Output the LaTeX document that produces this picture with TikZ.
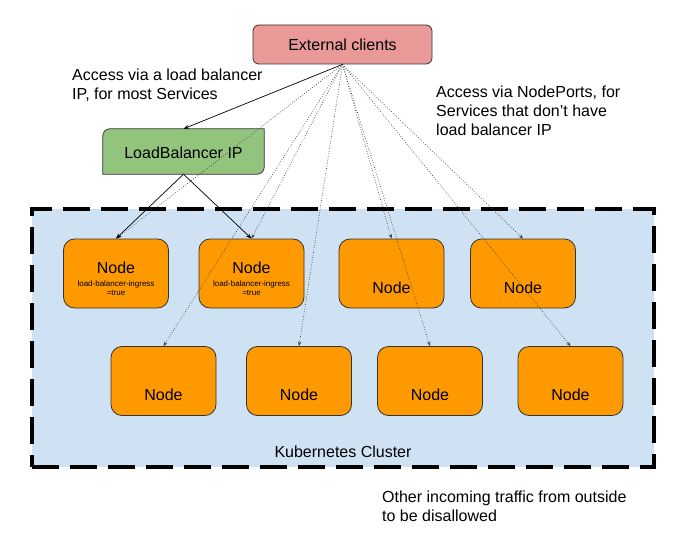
\documentclass[tikz,border=0pt]{standalone}
\usepackage{fontspec}
\setmainfont{Liberation Sans}
\usetikzlibrary{arrows.meta}
\definecolor{extpink}{HTML}{EA9999}
\definecolor{lbgreen}{HTML}{93C47D}
\definecolor{nodeorange}{HTML}{FF9900}
\definecolor{clusterblue}{HTML}{CFE2F3}
\definecolor{edgegray}{HTML}{333333}
\tikzset{
  bigfont/.style={font=\fontsize{16}{19}\selectfont},
  smallfont/.style={font=\fontsize{8}{9}\selectfont},
  extbox/.style={draw=edgegray, line width=0.8pt, fill=extpink, rounded corners=6pt,
    minimum width=179pt, minimum height=39pt, inner sep=0pt, bigfont},
  lbbox/.style={minimum width=161pt, minimum height=45pt, inner sep=0pt, bigfont},
  lbshape/.style={draw=edgegray, line width=0.8pt, fill=lbgreen},
  kbox/.style={draw=edgegray, line width=0.8pt, fill=nodeorange, rounded corners=11pt,
    minimum width=105pt, minimum height=69pt, inner sep=0pt},
  ktext/.style={bigfont, inner sep=0pt},
  ksub/.style={smallfont, inner sep=0pt, align=center, anchor=north},
  clusterbox/.style={draw=black, fill=clusterblue, line width=4pt,
    dash pattern=on 27pt off 11pt, minimum width=622pt, minimum height=258pt, inner sep=0pt},
  note/.style={bigfont, inner sep=0pt, align=left, anchor=north west},
  solidarrow/.style={draw=black, line width=0.7pt, -{Stealth[length=5.5pt,width=4pt]}},
  dotarrow/.style={draw=black!75, line width=0.7pt, dash pattern=on 0.7pt off 1.8pt,
    -{Stealth[length=4.5pt,width=3.5pt]}},
}
\begin{document}
\begin{tikzpicture}[x=1pt,y=-1pt]
\useasboundingbox[fill=white] (0,0) rectangle (684,545);

% cluster
\node[clusterbox] (cluster) at (343,338) {};
\node[bigfont, inner sep=0pt] (clusterlbl) at (343,452) {Kubernetes Cluster};

% top nodes
\node[kbox] (n1) at (116,273.5) {};
\node[kbox] (n2) at (251.5,273.5) {};
\node[kbox] (n3) at (391.5,273.5) {};
\node[kbox] (n4) at (523,273.5) {};
% bottom nodes
\node[kbox] (n5) at (163.5,381) {};
\node[kbox] (n6) at (299,381) {};
\node[kbox] (n7) at (430,381) {};
\node[kbox] (n8) at (570.5,381) {};

\node[ktext] (n1t) at (116,268) {Node};
\node[ksub] (n1s) at (116,280.5) {load-balancer-ingress\\=true};
\node[ktext] (n2t) at (251.5,268) {Node};
\node[ksub] (n2s) at (251.5,280.5) {load-balancer-ingress\\=true};
\node[ktext] (n3t) at (391.5,288) {Node};
\node[ktext] (n4t) at (523,288) {Node};
\node[ktext] (n5t) at (163.5,395) {Node};
\node[ktext] (n6t) at (299,395) {Node};
\node[ktext] (n7t) at (430,395) {Node};
\node[ktext] (n8t) at (570.5,395) {Node};

% external clients
\node[extbox] (ext) at (342.5,44.5) {External clients};

% load balancer
\node[lbbox] (lb) at (183.5,151.5) {};
\draw[lbshape] (lb.north east) -- ([yshift=7pt]lb.south east)
  arc[start angle=0, end angle=-90, radius=7pt] -- (lb.south west)
  -- ([yshift=-7pt]lb.north west) arc[start angle=180, end angle=90, radius=7pt] -- cycle;
\node[bigfont, inner sep=0pt] (lbt) at (183.5,152.5) {LoadBalancer IP};

% notes
\node[note] (note1) at (72,69) {Access via a load balancer\\IP, for most Services};
\node[note] (note2) at (436,86) {Access via NodePorts, for\\Services that don’t have\\load balancer IP};
\node[note] (note3) at (382,491) {Other incoming traffic from outside\\to be disallowed};

% connectors
\draw[dotarrow] (ext.south) -- (n1.north);
\draw[dotarrow] (ext.south) -- (n2.north);
\draw[dotarrow] (ext.south) -- (n3.north);
\draw[dotarrow] (ext.south) -- (n4.north);
\draw[dotarrow] (ext.south) -- (n5.north);
\draw[dotarrow] (ext.south) -- (n6.north);
\draw[dotarrow] (ext.south) -- (n7.north);
\draw[dotarrow] (ext.south) -- (n8.north);
\draw[solidarrow] (ext.south) -- (lb.north);
\draw[solidarrow] (lb.south) -- (n1.north);
\draw[solidarrow] (lb.south) -- (n2.north);
\end{tikzpicture}
\end{document}
